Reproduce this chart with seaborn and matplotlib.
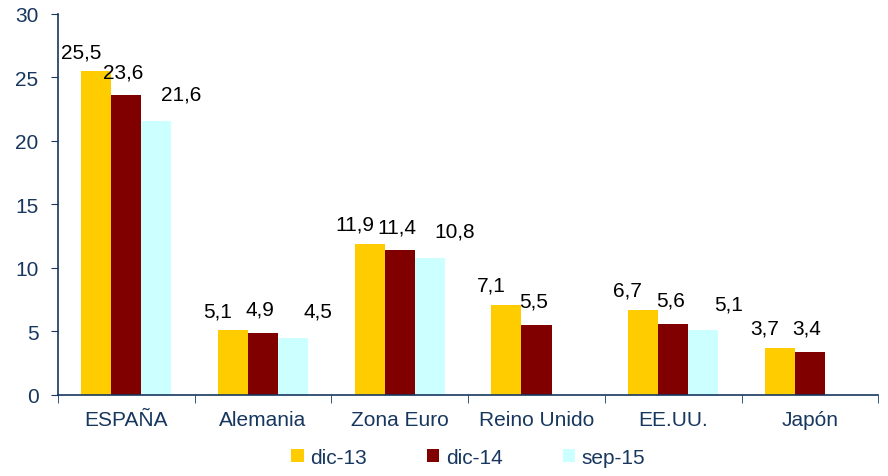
import numpy as np
import pandas as pd
import matplotlib.pyplot as plt
import seaborn as sns

# Values
categories = ['ESPAÑA', 'Alemania', 'Zona Euro', 'Reino Unido', 'EE.UU.', 'Japón']
series = ['dic-13', 'dic-14', 'sep-15']
dic13 = [25.5, 5.1, 11.9, 7.1, 6.7, 3.7]
dic14 = [23.6, 4.9, 11.4, 5.5, 5.6, 3.4]
sep15 = [21.6, 4.5, 10.8, np.nan, 5.1, np.nan]
colors = ['#FFCC00', '#800000', '#CCFFFF']
navy = '#17375E'

df = pd.DataFrame({
    'pais': categories * 3,
    'periodo': [s for s in series for _ in categories],
    'valor': dic13 + dic14 + sep15,
})

sns.set_style('white')
plt.rcParams['font.family'] = ['Liberation Sans', 'DejaVu Sans']
fs = 15

fig = plt.figure(figsize=(8.88, 4.77), dpi=100)
ax = fig.add_axes([0.0653, 0.170, 0.9237, 0.7986])

sns.barplot(data=df, x='pais', y='valor', hue='periodo', order=categories,
            hue_order=series, palette=colors, width=0.66, gap=0,
            errorbar=None, saturation=1, linewidth=0, ax=ax)

# value labels, Spanish decimal comma; each series nudged like the original
offsets = [(-11, 14), (-2, 17), (18, 19)]
for cont, (dx, dy) in zip(ax.containers, offsets):
    for bar in cont:
        h = bar.get_height()
        if np.isnan(h) or h == 0:
            continue
        ax.annotate(f'{h:.1f}'.replace('.', ','),
                    (bar.get_x() + bar.get_width() / 2, h),
                    xytext=(dx, dy), textcoords='offset points',
                    ha='center', va='center', fontsize=fs, color='black')

ax.set_ylim(0, 30)
ax.set_yticks(range(0, 31, 5))
ax.set_xlim(-0.5, len(categories) - 0.5)
ax.set_xlabel('')
ax.set_ylabel('')

for side in ['top', 'right']:
    ax.spines[side].set_visible(False)
for side in ['left', 'bottom']:
    ax.spines[side].set_color(navy)
    ax.spines[side].set_linewidth(1.2)

ax.set_xticks(np.arange(-0.5, len(categories)), minor=True)
ax.tick_params(axis='x', which='major', length=0, pad=11, labelsize=fs, labelcolor=navy)
ax.tick_params(axis='x', which='minor', length=6, direction='out', color=navy, bottom=True)
ax.tick_params(axis='y', length=5, direction='out', color=navy, left=True,
               labelsize=fs, labelcolor=navy, pad=9)

handles, labels = ax.get_legend_handles_labels()
ax.legend(handles, labels, loc='center', bbox_to_anchor=(0.5, -0.163), ncol=3,
          frameon=False, fontsize=fs, labelcolor=navy, handlelength=0.6,
          handleheight=0.6, handletextpad=0.3, columnspacing=2.9)

fig.savefig('out.png', dpi=100)
